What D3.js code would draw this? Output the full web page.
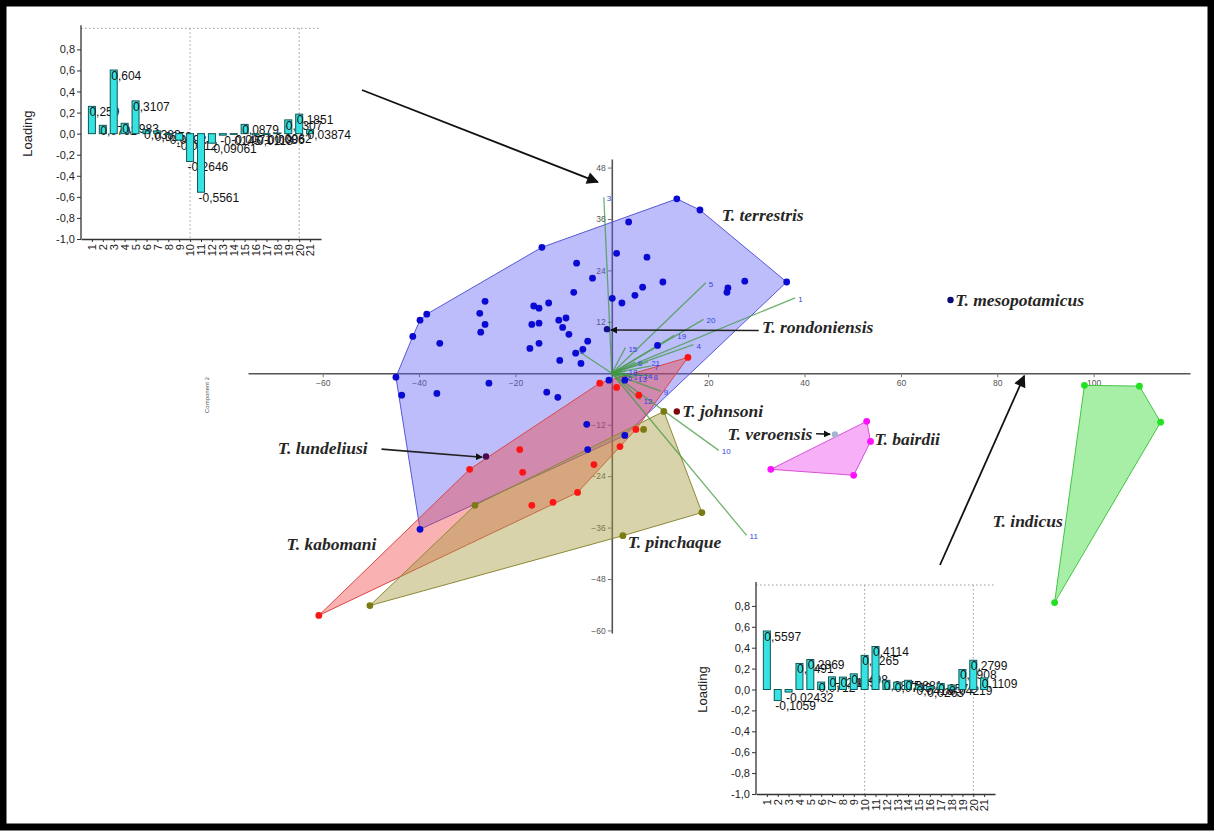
<!DOCTYPE html>
<html><head><meta charset="utf-8">
<script src="https://cdn.jsdelivr.net/npm/d3@7"></script>
<style>body{margin:0;background:#fff}svg{display:block}</style>
</head><body>
<svg id="chart" width="1214" height="832"></svg>
<script>
// ---------- data ----------
const variables = d3.range(1, 22);
// loadings of the 21 measurements on component 1 and component 2
const pc1Loadings = [0.5597, -0.1059, -0.02432, 0.2491, 0.2869, 0.0712, 0.1208, 0.1185, 0.1498, 0.3265, 0.4114,
  0.0875, 0.0703, 0.0881, 0.0416, 0.0263, 0.0571, 0.04219, 0.1908, 0.2799, 0.1109];
const pc2Loadings = [0.259, 0.0791, 0.604, 0.0983, 0.3107, 0.0383, 0.0252, -0.0092, -0.0612, -0.2646, -0.5561,
  -0.09061, -0.0145, -0.0071, 0.0879, -0.0118, -0.0086, 0.0062, 0.1307, 0.1851, 0.03874];
const loadingTicks = [0.8, 0.6, 0.4, 0.2, 0, -0.2, -0.4, -0.6, -0.8, -1.0];

// specimen scores [component 1, component 2]
const terrestris = [[13.5,40.7],[18.3,38.1],[3.5,35.3],[1.0,28.0],[7.3,27.1],[-7.3,25.7],[-4.0,22.2],[10.6,21.3],
  [6.4,20.1],[4.8,18.2],[0.1,17.5],[2.1,16.4],[-7.9,18.9],[27.6,21.5],[23.9,18.9],[24.1,19.9],[36.3,21.3],
  [-14.5,29.4],[-26.3,16.8],[-27.4,14.0],[-16.2,15.7],[-15.1,15.2],[-13.1,16.4],[-26.3,11.4],[-27.2,9.6],
  [-16.6,11.4],[-15.1,11.7],[-11.0,12.4],[-9.5,12.9],[-10.2,10.7],[-8.9,9.1],[-15.1,7.0],[-17.0,5.8],
  [-5.0,7.5],[-6.0,5.6],[-7.5,4.7],[-10.8,3.0],[-6.4,2.3],[-38.4,13.8],[-39.8,12.4],[-41.3,8.6],[-35.7,7.0],
  [-25.5,-2.3],[-0.6,-1.6],[-44.8,-0.9],[-43.6,-5.1],[-36.3,-4.7],[-13.5,-4.4],[-11.2,-5.6],[2.7,-1.6],
  [-5.2,-11.9],[-5.0,-17.8],[2.7,-14.5],[-39.8,-36.4],[9.5,6.5]];
const kabomani = [[15.8,3.7],[-2.5,-2.3],[1.0,-3.3],[5.6,-5.1],[5.0,-13.1],[1.7,-17.1],[-3.7,-21.3],[-7.1,-27.8],
  [-12.2,-30.1],[-16.6,-30.8],[-18.5,-23.1],[-19.1,-17.8],[-29.5,-22.4],[-60.8,-56.5]];
const pinchaque = [[10.8,-8.9],[6.6,-13.1],[2.3,-37.9],[18.7,-32.5],[-28.4,-30.8],[-50.2,-54.2]];
const bairdii = [[52.9,-11.2],[53.7,-15.9],[50.2,-23.8],[33.0,-22.4]];
const indicus = [[98.1,-2.8],[109.5,-3.0],[113.9,-11.4],[91.9,-53.5]];
const singles = [
  {name: "T. lundeliusi", pt: [-26.1, -19.4], color: "#4a0850"},
  {name: "T. johnsoni", pt: [13.5, -8.9], color: "#7a0a0a"},
  {name: "T. rondoniensis", pt: [-1.0, 10.3], color: "#10108a"},
  {name: "T. mesopotamicus", pt: [70.3, 17.1], color: "#0a0a70"},
  {name: "T. veroensis", pt: [46.3, -14.3], color: "#a8b4d0"}
];
const xTicks = [-60, -40, -20, 20, 40, 60, 80, 100];
const yTicks = [-60, -48, -36, -24, -12, 12, 24, 36, 48];

const groups = [
  {pts: terrestris, fill: "#5a5af5", op: 0.4, stroke: "#5858d8", dot: "#0a0ad2"},
  {pts: kabomani, fill: "#f03c3c", op: 0.4, stroke: "#d84848", dot: "#ff1414"},
  {pts: pinchaque, fill: "#a89a40", op: 0.44, stroke: "#8c8a36", dot: "#7c7a12"},
  {pts: bairdii, fill: "#f060f0", op: 0.5, stroke: "#d850d8", dot: "#ff10ff"},
  {pts: indicus, fill: "#50e050", op: 0.5, stroke: "#44c444", dot: "#22e022"}
];

const svg = d3.select("#chart");
svg.append("rect").attr("width", 1214).attr("height", 832).attr("fill", "#fff");

// ---------- main scatter ----------
const x = d3.scaleLinear().domain([-75.5, 120]).range([248, 1190]);
const y = d3.scaleLinear().domain([-60.6, 50]).range([633, 159]);

const main = svg.append("g");
const xAxis = main.append("g").attr("transform", `translate(0,${y(0)})`)
  .call(d3.axisBottom(x).tickValues(xTicks).tickSize(4).tickSizeOuter(0).tickPadding(3));
const yAxis = main.append("g").attr("transform", `translate(${x(0)},0)`)
  .call(d3.axisLeft(y).tickValues(yTicks).tickSize(4).tickSizeOuter(0).tickPadding(2));
[xAxis, yAxis].forEach(a => {
  a.select(".domain").attr("stroke", "#555").attr("stroke-width", 1.6);
  a.selectAll(".tick line").attr("stroke", "#777");
  a.selectAll(".tick text").attr("fill", "#555").attr("font-size", 8.5).attr("font-family", "Liberation Sans, Arial");
});

main.append("text").attr("transform", "translate(209,395) rotate(-90)")
  .attr("text-anchor", "middle").attr("font-size", 6).attr("fill", "#555")
  .attr("font-family", "Liberation Sans, Arial").text("Component 2");

// convex hulls
groups.forEach(g => {
  const hull = d3.polygonHull(g.pts.map(p => [x(p[0]), y(p[1])]));
  main.append("path").attr("d", "M" + hull.join("L") + "Z")
    .attr("fill", g.fill).attr("fill-opacity", g.op)
    .attr("stroke", g.stroke).attr("stroke-width", 1);
});

// loading vectors (biplot)
const vecScale = 68;
const vecs = main.append("g");
variables.forEach((v, i) => {
  const ex = pc1Loadings[i] * vecScale, ey = pc2Loadings[i] * vecScale;
  vecs.append("line").attr("x1", x(0)).attr("y1", y(0)).attr("x2", x(ex)).attr("y2", y(ey))
    .attr("stroke", "#3f9a3f").attr("stroke-opacity", 0.75).attr("stroke-width", 1.3);
  vecs.append("text").attr("x", x(ex) + 3).attr("y", y(ey) + 4)
    .attr("font-size", 8).attr("fill", "#3444e0").attr("font-family", "Liberation Sans, Arial").text(v);
});

// points
groups.forEach(g => {
  main.append("g").selectAll("circle").data(g.pts).join("circle")
    .attr("cx", d => x(d[0])).attr("cy", d => y(d[1])).attr("r", 3.4).attr("fill", g.dot);
});
main.append("g").selectAll("circle").data(singles).join("circle")
  .attr("cx", d => x(d.pt[0])).attr("cy", d => y(d.pt[1])).attr("r", 3.2).attr("fill", d => d.color);

// species labels
const speciesLabels = [
  {t: "T. terrestris", at: [22.8, 35.6]},
  {t: "T. mesopotamicus", at: [71.3, 15.7]},
  {t: "T. rondoniensis", at: [31.2, 9.3]},
  {t: "T. johnsoni", at: [14.6, -10.3]},
  {t: "T. veroensis", at: [24.0, -15.6]},
  {t: "T. bairdii", at: [54.5, -16.8]},
  {t: "T. lundeliusi", at: [-69.3, -18.8]},
  {t: "T. kabomani", at: [-67.5, -41.2]},
  {t: "T. pinchaque", at: [3.3, -40.8]},
  {t: "T. indicus", at: [79.0, -35.8]}
];
main.append("g").selectAll("text").data(speciesLabels).join("text")
  .attr("x", d => x(d.at[0])).attr("y", d => y(d.at[1]))
  .attr("font-family", "Liberation Serif, Times New Roman, serif").attr("font-style", "italic")
  .attr("font-weight", "bold").attr("font-size", 17.5).attr("fill", "#262626").text(d => d.t);

// arrow heads
const defs = svg.append("defs");
defs.append("marker").attr("id", "ah").attr("viewBox", "0 0 10 10").attr("refX", 9).attr("refY", 5)
  .attr("markerWidth", 7).attr("markerHeight", 7).attr("markerUnits", "userSpaceOnUse")
  .attr("orient", "auto").append("path").attr("d", "M0,0L10,5L0,10Z").attr("fill", "#111");
defs.append("marker").attr("id", "ahBig").attr("viewBox", "0 0 10 10").attr("refX", 9).attr("refY", 5)
  .attr("markerWidth", 14).attr("markerHeight", 12).attr("markerUnits", "userSpaceOnUse")
  .attr("orient", "auto").append("path").attr("d", "M0,0L10,5L0,10Z").attr("fill", "#111");

const pointers = [
  {from: [30.5, 10.0], to: [-0.2, 10.1]},     // rondoniensis
  {from: [-47.8, -17.7], to: [-26.9, -19.6]}, // lundeliusi
  {from: [42.4, -14.1], to: [45.3, -14.2]}    // veroensis
];
main.append("g").selectAll("line").data(pointers).join("line")
  .attr("x1", d => x(d.from[0])).attr("y1", d => y(d.from[1]))
  .attr("x2", d => x(d.to[0])).attr("y2", d => y(d.to[1]))
  .attr("stroke", "#222").attr("stroke-width", 1.6).attr("marker-end", "url(#ah)");

// ---------- loading bar charts ----------
function loadingChart(values, left, top, right, bottom) {
  const g = svg.append("g");
  const bx = d3.scaleLinear().domain([0, 22]).range([left, right]);
  const by = d3.scaleLinear().domain([-1, 1]).range([bottom, top]);
  const dl = (x1, y1, x2, y2) => g.append("line").attr("x1", x1).attr("y1", y1).attr("x2", x2).attr("y2", y2)
    .attr("stroke", "#999").attr("stroke-dasharray", "1.5,2.5").attr("stroke-width", 1);
  dl(left, by(1), right, by(1));
  dl(bx(10), by(1), bx(10), bottom);
  dl(bx(20), by(1), bx(20), bottom);

  const ya = g.append("g").attr("transform", `translate(${left},0)`)
    .call(d3.axisLeft(by).tickValues(loadingTicks).tickSize(4).tickSizeOuter(0).tickPadding(2)
      .tickFormat(d => d3.format(".1f")(d).replace(".", ",").replace("−", "-")));
  const xa = g.append("g").attr("transform", `translate(0,${bottom})`)
    .call(d3.axisBottom(bx).tickValues(variables).tickSize(3).tickSizeOuter(0));
  [ya, xa].forEach(a => {
    a.select(".domain").attr("stroke", "#333").attr("stroke-width", 1.3);
    a.selectAll(".tick line").attr("stroke", "#333");
    a.selectAll(".tick text").attr("fill", "#222").attr("font-size", 11)
      .attr("font-family", "Liberation Sans, Arial");
  });
  ya.select(".domain").attr("d", `M0,${bottom}V${by(1) - 3}`);
  xa.selectAll(".tick text").attr("transform", "rotate(-90)").attr("text-anchor", "end")
    .attr("dy", "0.35em").attr("x", -5).attr("y", 0);

  g.append("text").attr("transform", `translate(${left - 49},${by(0)}) rotate(-90)`)
    .attr("text-anchor", "middle").attr("font-size", 13).attr("fill", "#222")
    .attr("font-family", "Liberation Sans, Arial").text("Loading");

  const bw = 7;
  values.forEach((v, i) => {
    const cx = bx(i + 1);
    g.append("rect").attr("x", cx - bw / 2).attr("width", bw)
      .attr("y", Math.min(by(v), by(0))).attr("height", Math.abs(by(v) - by(0)))
      .attr("fill", "#36e2e2").attr("stroke", "#105858").attr("stroke-width", 1);
    g.append("text").attr("x", cx - 2.5).attr("y", by(v) + 1).attr("dominant-baseline", "hanging")
      .attr("font-size", 12).attr("fill", "#111").attr("font-family", "Liberation Sans, Arial")
      .text(String(v).replace(".", ","));
  });
}

loadingChart(pc2Loadings, 81, 28.3, 321, 239);
loadingChart(pc1Loadings, 756, 585, 995, 794);

// arrows from each loading chart to the axis it explains
const callouts = [
  {from: [362, 90], to: [x(-2.9), y(44.6)]},
  {from: [940, 565], to: [x(85.6), y(-0.6)]}
];
svg.append("g").selectAll("line").data(callouts).join("line")
  .attr("x1", d => d.from[0]).attr("y1", d => d.from[1])
  .attr("x2", d => d.to[0]).attr("y2", d => d.to[1])
  .attr("stroke", "#111").attr("stroke-width", 1.8).attr("marker-end", "url(#ahBig)");

// frame
svg.append("rect").attr("x", 3).attr("y", 3).attr("width", 1208).attr("height", 824)
  .attr("fill", "none").attr("stroke", "#000").attr("stroke-width", 7);
</script>
</body></html>
